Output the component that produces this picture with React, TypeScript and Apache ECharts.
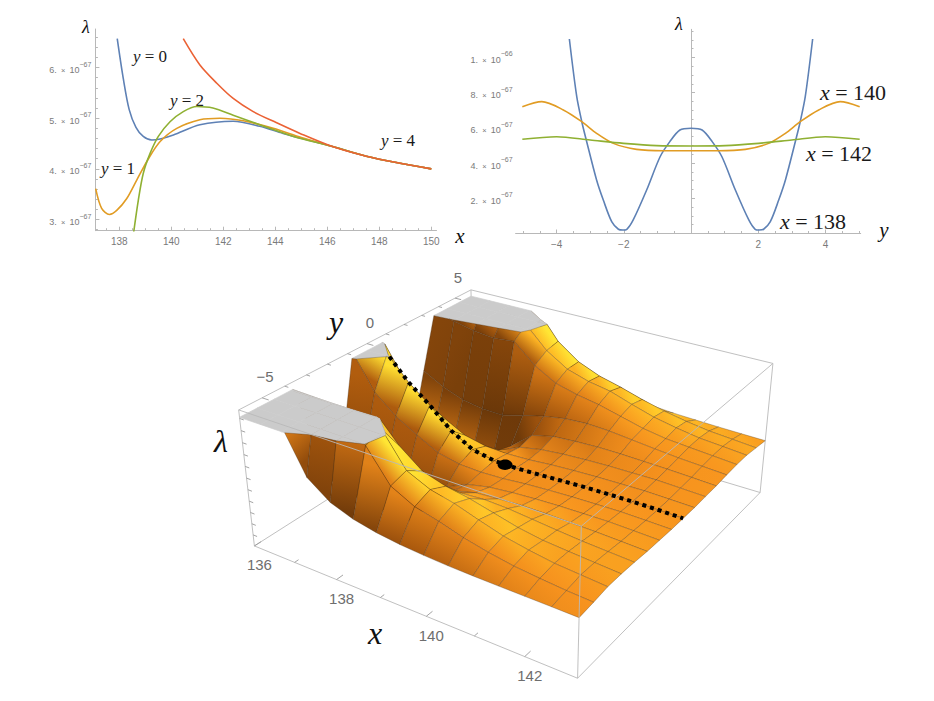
import React, { useEffect, useRef } from "react";
import * as echarts from "echarts";

const WIDTH = 934;
const HEIGHT = 701;

// ================= Upper-left panel: λ against x, for fixed y =================
const TL_X_MAJOR = [138, 140, 142, 144, 146, 148, 150];
const TL_X_MINOR = [137.5, 138.5, 139, 139.5, 140.5, 141, 141.5, 142.5, 143, 143.5, 144.5, 145, 145.5, 146.5, 147, 147.5, 148.5, 149, 149.5];
const TL_L_MAJOR = [3, 4, 5, 6];
const TL_L_MINOR = [2.8, 3.2, 3.4, 3.6, 3.8, 4.2, 4.4, 4.6, 4.8, 5.2, 5.4, 5.6, 5.8, 6.2, 6.4, 6.6];

const CURVE_Y0 = [[137.92, 6.57], [138.15, 5.79], [138.38, 5.17], [138.64, 4.82], [138.92, 4.64], [139.25, 4.57], [139.57, 4.59], [140.08, 4.67], [141.1, 4.87], [142.38, 4.94], [143.4, 4.84], [144.3, 4.7], [146.2, 4.44], [147.5, 4.25], [148.8, 4.11], [150, 4.0]];
const CURVE_Y1 = [[137.09, 3.61], [137.32, 3.22], [137.62, 3.1], [137.9, 3.18], [138.28, 3.41], [138.67, 3.78], [139.12, 4.2], [139.57, 4.54], [140.21, 4.8], [141.1, 4.97], [141.87, 5.0], [142.77, 4.95], [143.92, 4.8], [145, 4.62], [146.2, 4.44], [147.5, 4.25], [148.8, 4.11], [150, 4.0]];
const CURVE_Y2 = [[138.55, 2.74], [138.73, 3.38], [138.92, 3.91], [139.18, 4.3], [139.5, 4.64], [139.95, 4.93], [140.46, 5.13], [140.98, 5.23], [141.6, 5.2], [142.38, 5.06], [143.4, 4.87], [144.7, 4.64], [146.2, 4.44], [147.5, 4.25], [148.8, 4.11], [150, 4.0]];
const CURVE_Y4 = [[140.46, 6.57], [141.1, 6.05], [141.75, 5.69], [142.38, 5.39], [143.15, 5.13], [144.05, 4.91], [144.95, 4.7], [146.2, 4.44], [147.5, 4.25], [148.8, 4.11], [150, 4.0]];

// ================= Upper-right panel: λ against y, for fixed x =================
const TR_Y_MAJOR = [-4, -2, 2, 4];
const TR_Y_MINOR = [-5, -4.5, -3.5, -3, -2.5, -1.5, -1, -0.5, 0.5, 1, 1.5, 2.5, 3, 3.5, 4.5, 5];
const TR_L_MAJOR = [2, 4, 6, 8, 10];
const TR_L_MINOR = [0.5, 1, 1.5, 2.5, 3, 3.5, 4.5, 5, 5.5, 6.5, 7, 7.5, 8.5, 9, 9.5, 10.5, 11, 11.5];

const CURVE_X138 = [[-3.62, 11.05], [-3.4, 7.77], [-3.25, 6.35], [-3.13, 5.41], [-2.81, 3.04], [-2.61, 1.9], [-2.36, 0.67], [-2.16, 0.24], [-2.03, 0.2], [-1.91, 0.24], [-1.72, 0.77], [-1.32, 2.47], [-0.92, 4.36], [-0.63, 5.22], [-0.33, 5.88], [0, 5.98], [0.33, 5.88], [0.63, 5.22], [0.92, 4.36], [1.32, 2.47], [1.72, 0.77], [1.91, 0.24], [2.03, 0.2], [2.16, 0.24], [2.36, 0.67], [2.61, 1.9], [2.81, 3.04], [3.13, 5.41], [3.25, 6.35], [3.4, 7.77], [3.62, 11.05]];
const CURVE_X140 = [[-5.02, 7.2], [-4.44, 7.49], [-3.8, 7.02], [-3.25, 6.35], [-2.81, 5.69], [-2.31, 5.12], [-1.62, 4.78], [-0.82, 4.7], [0, 4.7], [0.82, 4.7], [1.62, 4.78], [2.31, 5.12], [2.81, 5.69], [3.25, 6.35], [3.8, 7.02], [4.44, 7.49], [5.02, 7.2]];
const CURVE_X142 = [[-5.02, 5.35], [-4.0, 5.5], [-3.0, 5.31], [-2.01, 5.12], [-1.02, 4.99], [0, 4.97], [1.02, 4.99], [2.01, 5.12], [3.0, 5.31], [4.0, 5.5], [5.02, 5.35]];

// ================= Lower panel: surface λ(x, y) (units of 1e-67) =================
const SURF_X = [136, 136.5, 137, 137.5, 138, 138.5, 139, 139.5, 140, 140.5, 141, 141.5, 142, 142.5, 143];
const SURF_Y = [-6, -5.25, -4.5, -3.75, -3, -2.25, -1.5, -0.75, 0, 0.75, 1.5, 2.25, 3, 3.75, 4.5, 5.25, 6];
const L_Y0 = [15.0, 11.3, 9.3, 7.8, 6.1, 5.0, 4.62, 4.58, 4.66, 4.76, 4.85, 4.9, 4.93, 4.92, 4.88];
const L_Y075 = [11.6, 8.6, 7.0, 5.9, 4.9, 4.5, 4.42, 4.5, 4.68, 4.8, 4.88, 4.93, 4.97, 4.93, 4.88];
const L_Y150 = [4.5, 3.4, 2.6, 2.1, 1.75, 3.3, 4.2, 4.6, 4.8, 4.92, 5.0, 5.03, 5.06, 5.0, 4.93];
const L_Y225 = [1.5, 1.0, 0.6, 0.4, 0.4, 2.9, 4.5, 5.0, 5.15, 5.25, 5.25, 5.2, 5.15, 5.07, 4.98];
const L_Y300 = [6.5, 5.5, 4.8, 4.5, 4.45, 5.0, 5.5, 5.85, 5.98, 5.9, 5.7, 5.5, 5.32, 5.2, 5.08];
// positive-y side (back tower)
const L_Y375 = [11.4, 11.0, 10.6, 10.4, 10.6, 8.9, 7.8, 7.3, 6.95, 6.45, 5.95, 5.62, 5.45, 5.3, 5.15];
const L_Y450 = [14.0, 13.5, 13.0, 12.3, 11.5, 9.6, 8.4, 7.8, 7.45, 6.8, 6.2, 5.8, 5.48, 5.32, 5.15];
const L_Y525 = [16.0, 15.5, 15.0, 14.0, 12.2, 9.8, 8.4, 7.6, 7.1, 6.5, 6.0, 5.62, 5.33, 5.17, 5.0];
const L_Y600 = [18.0, 16.0, 13.5, 11.4, 8.5, 6.8, 6.0, 5.6, 5.35, 5.2, 5.05, 4.98, 4.92, 4.88, 4.85];
// negative-y side (front tower), read a little wider in the picture
const L_YN375 = [11.7, 11.5, 11.3, 11.3, 11.5, 9.4, 7.9, 7.3, 6.95, 6.45, 5.95, 5.62, 5.45, 5.3, 5.15];
const L_YN450 = [14.5, 14.0, 13.5, 13.2, 13.0, 11.5, 8.8, 7.9, 7.45, 6.8, 6.2, 5.8, 5.48, 5.32, 5.15];
const L_YN525 = [16.5, 16.0, 15.5, 15.0, 14.0, 11.0, 8.4, 7.4, 6.9, 6.3, 5.85, 5.5, 5.28, 5.1, 4.98];
const L_YN600 = [18.0, 15.0, 11.6, 8.0, 6.6, 5.9, 5.5, 5.25, 5.1, 5.0, 4.95, 4.92, 4.9, 4.88, 4.85];
const SURF_ROWS = [L_YN600, L_YN525, L_YN450, L_YN375, L_Y300, L_Y225, L_Y150, L_Y075, L_Y0, L_Y075, L_Y150, L_Y225, L_Y300, L_Y375, L_Y450, L_Y525, L_Y600];
const SADDLE = [139.25, 0, 4.57];
const S_X_MAJOR = [136, 138, 140, 142];
const S_X_MINOR = [137, 139, 141, 143];
const S_Y_MAJOR = [-5, 0, 5];
const S_Y_MINOR = [-6, -4, -3, -2, -1, 1, 2, 3, 4, 6];
const S_L_TICKS = [1, 2, 3, 4, 5, 6, 7, 8, 9, 10, 11];

// ================= 3D frame (layout) =================
type V3 = [number, number, number];
type RGB = [number, number, number];
const BOX_X = [136, 143];
const BOX_Y = [-6, 6];
const BOX_Z = [0, 11.7];
const CLIP = 11.1;
const BOX_ANCHORS: { c: V3; s: [number, number] }[] = [
  { c: [0, 0, 1], s: [238, 412] },
  { c: [0, 1, 1], s: [471, 289] },
  { c: [1, 1, 1], s: [773, 365] },
  { c: [0, 0, 0], s: [255, 545] },
  { c: [1, 0, 0], s: [577, 680] },
  { c: [1, 1, 0], s: [760, 492] },
  { c: [1, 0, 1], s: [582, 523] },
];

function gauss(M: number[][], b: number[]): number[] {
  const n = b.length;
  const A = M.map((r, i) => [...r, b[i]]);
  for (let c = 0; c < n; c++) {
    let p = c;
    for (let r = c + 1; r < n; r++) if (Math.abs(A[r][c]) > Math.abs(A[p][c])) p = r;
    const tmp = A[c]; A[c] = A[p]; A[p] = tmp;
    for (let r = 0; r < n; r++) {
      if (r === c) continue;
      const f = A[r][c] / A[c][c];
      for (let k = c; k <= n; k++) A[r][k] -= f * A[c][k];
    }
  }
  return A.map((r, i) => r[n] / r[i]);
}

const S0 = 450, SS = 300;
function fitCamera(): number[] {
  const rows: number[][] = [];
  const rhs: number[] = [];
  for (const { c, s } of BOX_ANCHORS) {
    const [X, Y, Z] = c;
    const u = (s[0] - S0) / SS, v = (s[1] - S0) / SS;
    rows.push([X, Y, Z, 1, 0, 0, 0, 0, -u * X, -u * Y, -u * Z]); rhs.push(u);
    rows.push([0, 0, 0, 0, X, Y, Z, 1, -v * X, -v * Y, -v * Z]); rhs.push(v);
  }
  const N = 11;
  const M = Array.from({ length: N }, () => new Array(N).fill(0));
  const r = new Array(N).fill(0);
  rows.forEach((row, i) => {
    for (let a = 0; a < N; a++) {
      r[a] += row[a] * rhs[i];
      for (let b = 0; b < N; b++) M[a][b] += row[a] * row[b];
    }
  });
  return gauss(M, r);
}
const CAM = fitCamera();
const CAM_CENTER = gauss(
  [[CAM[0], CAM[1], CAM[2]], [CAM[4], CAM[5], CAM[6]], [CAM[8], CAM[9], CAM[10]]],
  [-CAM[3], -CAM[7], -1]
);

function toUnit(p: number[]): V3 {
  return [
    (p[0] - BOX_X[0]) / (BOX_X[1] - BOX_X[0]),
    (p[1] - BOX_Y[0]) / (BOX_Y[1] - BOX_Y[0]),
    (p[2] - BOX_Z[0]) / (BOX_Z[1] - BOX_Z[0]),
  ];
}
function project(p: number[]): [number, number] {
  const [X, Y, Z] = toUnit(p);
  const c = CAM;
  const d = c[8] * X + c[9] * Y + c[10] * Z + 1;
  return [
    ((c[0] * X + c[1] * Y + c[2] * Z + c[3]) / d) * SS + S0,
    ((c[4] * X + c[5] * Y + c[6] * Z + c[7]) / d) * SS + S0,
  ];
}
function horizDist(p: number[]): number {
  const [X, Y] = toUnit(p);
  return Math.hypot(X - CAM_CENTER[0], Y - CAM_CENTER[1]);
}
function signedArea(pts: [number, number][]): number {
  let a = 0;
  for (let i = 0; i < pts.length; i++) {
    const p = pts[i], q = pts[(i + 1) % pts.length];
    a += p[0] * q[1] - q[0] * p[1];
  }
  return a / 2;
}
function clipPoly(pts: V3[], keepBelow: boolean): V3[] {
  const out: V3[] = [];
  const inside = (p: V3) => (keepBelow ? p[2] <= CLIP : p[2] >= CLIP);
  for (let i = 0; i < pts.length; i++) {
    const a = pts[i], b = pts[(i + 1) % pts.length];
    const ia = inside(a), ib = inside(b);
    if (ia) out.push(a);
    if (ia !== ib) {
      const t = (CLIP - a[2]) / (b[2] - a[2]);
      out.push([a[0] + t * (b[0] - a[0]), a[1] + t * (b[1] - a[1]), CLIP]);
    }
  }
  return out;
}
function centroid(pts: V3[]): V3 {
  const s = [0, 0, 0];
  pts.forEach((p) => { s[0] += p[0]; s[1] += p[1]; s[2] += p[2]; });
  return [s[0] / pts.length, s[1] / pts.length, s[2] / pts.length];
}

// ---- lighting (style) ----
const LIGHT = (() => { const l = [0.75, 0.45, 0.6]; const m = Math.hypot(l[0], l[1], l[2]); return l.map((v) => v / m); })();
const FLAT_S = LIGHT[2];
const SHADE_STOPS: [number, RGB][] = [
  [-0.3, [90, 47, 8]],
  [0.15, [176, 92, 14]],
  [FLAT_S, [247, 147, 30]],
  [0.78, [255, 194, 38]],
  [0.93, [255, 230, 52]],
];
const UNDER_FILL = "rgb(104,57,11)";
const CAP_FILL = "#cbcbcb";
const MESH = "rgba(65,45,25,0.5)";
const BOX_EDGE = "#b9b9b9";
const ZS = 0.4 / (BOX_Z[1] - BOX_Z[0]);

function rampColor(s: number): RGB {
  const st = SHADE_STOPS;
  if (s <= st[0][0]) return st[0][1];
  if (s >= st[st.length - 1][0]) return st[st.length - 1][1];
  for (let k = 0; k < st.length - 1; k++) {
    const [s0, c0] = st[k], [s1, c1] = st[k + 1];
    if (s >= s0 && s <= s1) {
      const t = (s - s0) / (s1 - s0);
      return [c0[0] + t * (c1[0] - c0[0]), c0[1] + t * (c1[1] - c0[1]), c0[2] + t * (c1[2] - c0[2])];
    }
  }
  return st[0][1];
}
function colorOfNormal(n: number[]): RGB {
  const m = Math.hypot(n[0], n[1], n[2]);
  let u = n.map((v) => v / m);
  if (u[2] < 0) u = u.map((v) => -v);
  return rampColor(u[0] * LIGHT[0] + u[1] * LIGHT[1] + u[2] * LIGHT[2]);
}
const zc = (j: number, i: number) => Math.min(SURF_ROWS[j][i], CLIP + 3);
function vertexColor(i: number, j: number): RGB {
  const nx = SURF_X.length, ny = SURF_Y.length;
  const i0 = Math.max(0, i - 1), i1 = Math.min(nx - 1, i + 1);
  const j0 = Math.max(0, j - 1), j1 = Math.min(ny - 1, j + 1);
  const dzdx = (ZS * (zc(j, i1) - zc(j, i0))) / ((SURF_X[i1] - SURF_X[i0]) / 7);
  const dzdy = (ZS * (zc(j1, i) - zc(j0, i))) / ((SURF_Y[j1] - SURF_Y[j0]) / 12);
  return colorOfNormal([-dzdx, -dzdy, 1]);
}
const VCOL: RGB[][] = SURF_Y.map((_, j) => SURF_X.map((__, i) => vertexColor(i, j)));
const css = (c: RGB) => `rgb(${Math.round(c[0])},${Math.round(c[1])},${Math.round(c[2])})`;
const avg = (a: RGB, b: RGB): RGB => [(a[0] + b[0]) / 2, (a[1] + b[1]) / 2, (a[2] + b[2]) / 2];
const mid = (a: [number, number], b: [number, number]): [number, number] => [(a[0] + b[0]) / 2, (a[1] + b[1]) / 2];
const cdist = (a: RGB, b: RGB) => Math.abs(a[0] - b[0]) + Math.abs(a[1] - b[1]) + Math.abs(a[2] - b[2]);

interface Grad { a: [number, number]; b: [number, number]; ca: string; cb: string }
interface Poly { pts: [number, number][]; fill: string; grad?: Grad; stroke: string; lw: number; key: number }
function buildSurface(): Poly[] {
  const out: Poly[] = [];
  const refArea = signedArea([[136, -6, 0], [143, -6, 0], [143, 6, 0], [136, 6, 0]].map(project));
  for (let j = 0; j < SURF_Y.length - 1; j++) {
    for (let i = 0; i < SURF_X.length - 1; i++) {
      const q: V3[] = [
        [SURF_X[i], SURF_Y[j], SURF_ROWS[j][i]],
        [SURF_X[i + 1], SURF_Y[j], SURF_ROWS[j][i + 1]],
        [SURF_X[i + 1], SURF_Y[j + 1], SURF_ROWS[j + 1][i + 1]],
        [SURF_X[i], SURF_Y[j + 1], SURF_ROWS[j + 1][i]],
      ];
      const below = clipPoly(q, true);
      const above = clipPoly(q, false).map((p) => [p[0], p[1], CLIP] as V3);
      if (below.length >= 3) {
        const sp = below.map(project);
        const a = signedArea(sp);
        if (Math.abs(a) > 0.05) {
          const under = Math.sign(a) !== Math.sign(refArea);
          if (under) {
            out.push({ pts: sp, fill: UNDER_FILL, stroke: MESH, lw: 0.6, key: horizDist(centroid(below)) });
          } else {
            const qc = q.map((p) => project([p[0], p[1], Math.min(p[2], CLIP)]));
            const c00 = VCOL[j][i], c10 = VCOL[j][i + 1], c11 = VCOL[j + 1][i + 1], c01 = VCOL[j + 1][i];
            const xa = avg(c00, c01), xb = avg(c10, c11);
            const ya = avg(c00, c10), yb = avg(c01, c11);
            const useX = cdist(xa, xb) >= cdist(ya, yb);
            const grad: Grad = useX
              ? { a: mid(qc[0], qc[3]), b: mid(qc[1], qc[2]), ca: css(xa), cb: css(xb) }
              : { a: mid(qc[0], qc[1]), b: mid(qc[3], qc[2]), ca: css(ya), cb: css(yb) };
            const flat = css(avg(avg(c00, c10), avg(c01, c11)));
            out.push({ pts: sp, fill: flat, grad, stroke: MESH, lw: 0.6, key: horizDist(centroid(below)) });
          }
        }
      }
      if (above.length >= 3) {
        out.push({ pts: above.map(project), fill: CAP_FILL, stroke: CAP_FILL, lw: 0.7, key: horizDist(centroid(above)) });
      }
    }
  }
  out.sort((a, b) => b.key - a.key);
  return out;
}
const SURF_POLYS = buildSurface();

const BX0 = BOX_X[0], BX1 = BOX_X[1], BY0 = BOX_Y[0], BY1 = BOX_Y[1], BZ0 = BOX_Z[0], BZ1 = BOX_Z[1];
const BACK_EDGES: V3[][] = [
  [[BX0, BY0, BZ1], [BX0, BY1, BZ1]],
  [[BX0, BY1, BZ1], [BX1, BY1, BZ1]],
  [[BX1, BY1, BZ1], [BX1, BY1, BZ0]],
  [[BX0, BY0, BZ1], [BX0, BY0, BZ0]],
  [[BX0, BY1, BZ1], [BX0, BY1, BZ0]],
  [[BX0, BY1, BZ0], [BX0, BY0, BZ0]],
  [[BX0, BY1, BZ0], [BX1, BY1, BZ0]],
];
const FRONT_EDGES: V3[][] = [
  [[BX0, BY0, BZ0], [BX1, BY0, BZ0]],
  [[BX1, BY0, BZ0], [BX1, BY1, BZ0]],
  [[BX1, BY0, BZ0], [BX1, BY0, BZ1]],
  [[BX0, BY0, BZ1], [BX1, BY0, BZ1]],
  [[BX1, BY0, BZ1], [BX1, BY1, BZ1]],
];
const TICK_SEGS: V3[][] = [
  ...S_X_MAJOR.map((x) => [[x, BY0, BZ0], [x, BY0 + 0.3, BZ0]] as V3[]),
  ...S_X_MINOR.filter((x) => x < BX1).map((x) => [[x, BY0, BZ0], [x, BY0 + 0.18, BZ0]] as V3[]),
  ...S_Y_MAJOR.map((y) => [[BX0, y, BZ1], [BX0 + 0.16, y, BZ1]] as V3[]),
  ...S_Y_MINOR.filter((y) => y > BY0 && y < BY1).map((y) => [[BX0, y, BZ1], [BX0 + 0.09, y, BZ1]] as V3[]),
  ...S_L_TICKS.map((z) => [[BX0, BY0, z], [BX0 + 0.1, BY0, z]] as V3[]),
];

function ridgeLine(): V3[] {
  const pts: V3[] = [];
  for (let i = 0; i < SURF_X.length; i++) {
    const p: V3 = [SURF_X[i], 0, L_Y0[i]];
    if (i > 0) {
      const prev: V3 = [SURF_X[i - 1], 0, L_Y0[i - 1]];
      if (prev[2] > CLIP && p[2] <= CLIP) {
        const t = (CLIP - prev[2]) / (p[2] - prev[2]);
        pts.push([prev[0] + t * (p[0] - prev[0]), 0, CLIP]);
      }
    }
    if (p[2] <= CLIP) pts.push(p);
  }
  return pts;
}
const RIDGE = ridgeLine();

interface Lbl { p: V3; text: string; dx: number; dy: number }
const LABELS_3D: Lbl[] = [
  ...S_X_MAJOR.map((x) => ({ p: [x, BY0, BZ0] as V3, text: String(x), dx: 5, dy: 19 })),
  ...S_Y_MAJOR.map((y) => ({ p: [BX0, y, BZ1] as V3, text: y < 0 ? "\u2212" + Math.abs(y) : String(y), dx: 3, dy: -21 })),
];

// ================= styling helpers =================
const AX = "#b8b8b8";
const LBL = "#7a7a7a";
const SANS = "'Liberation Sans', Arial, sans-serif";
const SERIF = "'Liberation Serif', 'Times New Roman', serif";
const C_BLUE = "#5E81B5", C_ORANGE = "#E19C24", C_GREEN = "#8FB032", C_RED = "#EB6235";

const sciRich = {
  m: { fontSize: 9, fontFamily: SANS, color: LBL, lineHeight: 14, verticalAlign: "bottom" },
  t: { fontSize: 7.5, fontFamily: SANS, color: LBL, lineHeight: 14, verticalAlign: "bottom" },
  s: { fontSize: 7, fontFamily: SANS, color: LBL, lineHeight: 7, verticalAlign: "top" },
};
const sci = (mant: number, exp: number) => `{m|${mant}.}{t|  \u00d7  }{m|10}{s|\u2212${exp}}`;

function majorAxis(grid: number, pos: string, min: number, max: number, ticks: number[], fmt: (v: number) => string, extra: any = {}) {
  return {
    type: "value", gridIndex: grid, position: pos, min, max,
    axisLine: { show: true, onZero: extra.onZero ?? false, lineStyle: { color: AX, width: 1 } },
    axisTick: { show: true, inside: true, length: 4, customValues: ticks, lineStyle: { color: AX, width: 1 } },
    axisLabel: { show: true, customValues: ticks, formatter: fmt, color: LBL, fontFamily: SANS, fontSize: 10, margin: extra.margin ?? 5, rich: extra.rich },
    splitLine: { show: false },
  };
}
function minorAxis(grid: number, pos: string, min: number, max: number, ticks: number[], onZero = false) {
  return {
    type: "value", gridIndex: grid, position: pos, min, max,
    axisLine: { show: false, onZero },
    axisTick: { show: true, inside: true, length: 2.5, customValues: ticks, lineStyle: { color: AX, width: 1 } },
    axisLabel: { show: false },
    splitLine: { show: false },
  };
}

function txt(x: number, y: number, text: string, size: number, rich?: any) {
  return {
    type: "text", x, y, silent: true,
    style: {
      text, fill: "#1a1a1a", fontFamily: SERIF, fontSize: size,
      align: "center", verticalAlign: "middle", textAlign: "center", textVerticalAlign: "middle",
      rich,
    },
  };
}
const eqRich = (size: number) => ({
  i: { fontFamily: SERIF, fontStyle: "italic", fontSize: size, fill: "#1a1a1a", color: "#1a1a1a" },
  r: { fontFamily: SERIF, fontSize: size, fill: "#1a1a1a", color: "#1a1a1a" },
});
const eq = (v: string, val: string) => `{i|${v}}{r| = ${val}}`;
const italic = (x: number, y: number, t: string, size: number) => ({
  type: "text", x, y, silent: true,
  style: { text: t, fill: "#111", fontFamily: SERIF, fontStyle: "italic", fontSize: size, align: "center", verticalAlign: "middle", textAlign: "center", textVerticalAlign: "middle" },
});

function lineSeries(data: number[][], color: string, xi: number, yi: number) {
  return {
    type: "line", data, xAxisIndex: xi, yAxisIndex: yi, showSymbol: false, symbol: "none",
    smooth: 0.3, lineStyle: { color, width: 1.6 }, silent: true,
  };
}

export default function App() {
  const ref = useRef<HTMLDivElement>(null);
  useEffect(() => {
    if (!ref.current) return;
    const chart = echarts.init(ref.current, undefined, { renderer: "svg", width: WIDTH, height: HEIGHT });
    const seg = (pts: V3[], api: any) => pts.map((p) => api.coord(project(p)));
    const option: any = {
      animation: false,
      backgroundColor: "#ffffff",
      grid: [
        { left: 95.4, top: 29, width: 341.1, height: 201.7 },
        { left: 515.6, top: 29.3, width: 345.1, height: 204.2 },
        { left: 0, top: 0, width: WIDTH, height: HEIGHT },
      ],
      xAxis: [
        majorAxis(0, "bottom", 137.08, 150.2, TL_X_MAJOR, (v) => String(v), { margin: 6 }),
        minorAxis(0, "bottom", 137.08, 150.2, TL_X_MINOR),
        majorAxis(1, "bottom", -5.22, 5.05, TR_Y_MAJOR, (v) => (v < 0 ? "\u2212" + Math.abs(v) : String(v)), { onZero: true, margin: 6 }),
        minorAxis(1, "bottom", -5.22, 5.05, TR_Y_MINOR, true),
        { type: "value", gridIndex: 2, min: 0, max: WIDTH, show: false },
      ],
      yAxis: [
        majorAxis(0, "left", 2.78, 6.76, TL_L_MAJOR, (v) => sci(v, 67), { rich: sciRich, margin: 4 }),
        minorAxis(0, "left", 2.78, 6.76, TL_L_MINOR),
        majorAxis(1, "left", 0, 11.6, TR_L_MAJOR, (v) => (v === 10 ? sci(1, 66) : sci(v, 67)), { rich: sciRich, onZero: true, margin: 3 }),
        minorAxis(1, "left", 0, 11.6, TR_L_MINOR, true),
        { type: "value", gridIndex: 2, min: 0, max: HEIGHT, inverse: true, show: false },
      ],
      series: [
        lineSeries(CURVE_Y0, C_BLUE, 0, 0),
        lineSeries(CURVE_Y1, C_ORANGE, 0, 0),
        lineSeries(CURVE_Y2, C_GREEN, 0, 0),
        lineSeries(CURVE_Y4, C_RED, 0, 0),
        lineSeries(CURVE_X138, C_BLUE, 2, 2),
        lineSeries(CURVE_X140, C_ORANGE, 2, 2),
        lineSeries(CURVE_X142, C_GREEN, 2, 2),
        {
          type: "custom", xAxisIndex: 4, yAxisIndex: 4, z: 1, silent: true, clip: false,
          data: BACK_EDGES.map((_, i) => [i, 0]),
          renderItem: (_p: any, api: any) => ({
            type: "polyline", shape: { points: seg(BACK_EDGES[api.value(0)], api) },
            style: { stroke: BOX_EDGE, lineWidth: 0.9, fill: "none" },
          }),
        },
        {
          type: "custom", xAxisIndex: 4, yAxisIndex: 4, z: 2, silent: true, clip: false,
          data: SURF_POLYS.map((_, i) => [i, 0]),
          renderItem: (_p: any, api: any) => {
            const k = api.value(0);
            const poly = SURF_POLYS[k];
            let fill: any = poly.fill;
            if (poly.grad) {
              const a = api.coord(poly.grad.a), b = api.coord(poly.grad.b);
              fill = {
                type: "linear", x: a[0], y: a[1], x2: b[0], y2: b[1], global: true,
                colorStops: [{ offset: 0, color: poly.grad.ca }, { offset: 1, color: poly.grad.cb }],
              };
            }
            return {
              type: "polygon", z2: k,
              shape: { points: poly.pts.map((q) => api.coord(q)) },
              style: { fill, stroke: poly.stroke, lineWidth: poly.lw, lineJoin: "round" },
            };
          },
        },
        {
          type: "custom", xAxisIndex: 4, yAxisIndex: 4, z: 3, silent: true, clip: false,
          data: FRONT_EDGES.map((_, i) => [i, 0]),
          renderItem: (_p: any, api: any) => ({
            type: "polyline", shape: { points: seg(FRONT_EDGES[api.value(0)], api) },
            style: { stroke: BOX_EDGE, lineWidth: 0.9, fill: "none" },
          }),
        },
        {
          type: "custom", xAxisIndex: 4, yAxisIndex: 4, z: 3, silent: true, clip: false,
          data: TICK_SEGS.map((_, i) => [i, 0]),
          renderItem: (_p: any, api: any) => ({
            type: "polyline", shape: { points: seg(TICK_SEGS[api.value(0)], api) },
            style: { stroke: "#9a9a9a", lineWidth: 0.9, fill: "none" },
          }),
        },
        {
          type: "custom", xAxisIndex: 4, yAxisIndex: 4, z: 4, silent: true, clip: false,
          data: [[0, 0]],
          renderItem: (_p: any, api: any) => ({
            type: "polyline", shape: { points: seg(RIDGE, api) },
            style: { stroke: "#000", lineWidth: 4, fill: "none", lineDash: [4, 4], lineCap: "butt" },
          }),
        },
        {
          type: "custom", xAxisIndex: 4, yAxisIndex: 4, z: 5, silent: true, clip: false,
          data: [SADDLE],
          renderItem: (_p: any, api: any) => {
            const c = api.coord(project([api.value(0), api.value(1), api.value(2)]));
            return { type: "ellipse", shape: { cx: c[0], cy: c[1], rx: 7.5, ry: 5.2 }, style: { fill: "#000" } };
          },
          encode: { x: 0, y: 1 },
        },
        {
          type: "custom", xAxisIndex: 4, yAxisIndex: 4, z: 5, silent: true, clip: false,
          data: LABELS_3D.map((_, i) => [i, 0]),
          renderItem: (_p: any, api: any) => {
            const l = LABELS_3D[api.value(0)];
            const c = api.coord(project(l.p));
            return {
              type: "text", x: c[0] + l.dx, y: c[1] + l.dy,
              style: { text: l.text, fill: "#6e6e6e", fontFamily: SANS, fontSize: 15, align: "center", verticalAlign: "middle", textAlign: "center", textVerticalAlign: "middle" },
            };
          },
        },
      ],
      graphic: [
        txt(150, 56, eq("y", "0"), 17, eqRich(17)),
        txt(187, 100, eq("y", "2"), 17, eqRich(17)),
        txt(118, 168, eq("y", "1"), 17, eqRich(17)),
        txt(398, 140, eq("y", "4"), 17, eqRich(17)),
        txt(853, 92, eq("x", "140"), 22, eqRich(22)),
        txt(839, 153, eq("x", "142"), 22, eqRich(22)),
        txt(813, 221, eq("x", "138"), 22, eqRich(22)),
        italic(86, 27, "\u03bb", 18),
        italic(460, 236, "x", 21),
        italic(679, 24, "\u03bb", 18),
        italic(884, 230, "y", 21),
        italic(221, 441, "\u03bb", 32),
        italic(336, 322, "y", 32),
        italic(375, 633, "x", 32),
      ],
    };
    chart.setOption(option);
    return () => chart.dispose();
  }, []);
  return <div ref={ref} style={{ position: "fixed", left: 0, top: 0, width: WIDTH, height: HEIGHT, background: "#fff" }} />;
}
